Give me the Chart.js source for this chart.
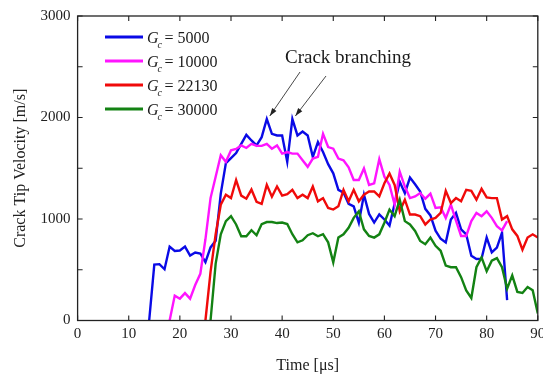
<!DOCTYPE html>
<html><head><meta charset="utf-8">
<script src="https://cdn.jsdelivr.net/npm/chart.js@4.4.1/dist/chart.umd.min.js"></script>
<style>
html,body{margin:0;padding:0;overflow:hidden;background:#fff;width:543px;height:377px}
#wrap{position:relative;width:553px;height:377px}
</style></head><body>
<div id="wrap"><canvas id="c"></canvas></div>
<script>
const timeUs = [14,15,16,17,18,19,20,21,22,23,24,25,26,27,28,29,30,31,32,33,34,35,36,37,38,39,40,41,42,43,44,45,46,47,48,49,50,51,52,53,54,55,56,57,58,59,60,61,62,63,64,65,66,67,68,69,70,71,72,73,74,75,76,77,78,79,80,81,82,83,84,85,86,87,88,89,90];
const gcLabels = ['5000','10000','22130','30000'];
const gc5000 = [0,550,555,505,728,685,690,728,640,670,
  660,575,720,785,1250,1550,1600,1650,1740,1829,
  1774,1725,1806,1985,1839,1823,1823,1563,1985,1823,
  1862,1823,1612,1758,1660,1540,1450,1287,1260,1150,
  1125,963,1240,1050,965,1045,995,935,1150,1368,
  1255,1408,1342,1271,1100,1035,885,805,768,995,
  1060,898,849,638,606,610,817,671,719,865,200,
  null,null,null,null,null,null];
const gc10000 = [null,null,null,null,
  0,245,215,270,215,350,460,800,1206,1417,
  1628,1563,1677,1690,1725,1700,1741,1720,1720,1741,
  1693,1725,1644,1660,1644,1644,1579,1514,1595,1612,
  1839,1709,1693,1595,1579,1510,1384,1384,1498,1336,
  1352,1590,1417,1336,1141,1466,1320,1206,1222,1255,
  1200,1250,1109,1115,1011,1141,985,833,833,979,
  1060,1028,1076,1011,930,888,979,
  null,null,null,null,null,null];
const gc22130 = [null,null,null,null,null,null,null,null,null,null,null,
  0,480,850,1141,1239,1206,1384,1230,1200,1290,
  1170,1150,1336,1220,1320,1230,1245,1287,1206,1240,
  1206,1320,1174,1206,1109,1093,1125,1287,1174,1287,
  1174,1239,1271,1271,1222,1352,1449,1336,1076,1190,
  1044,1044,1028,946,995,1011,1060,1277,1157,1206,
  1174,1287,1277,1190,1297,1212,1206,1206,995,1028,
  898,833,697,817,849,817];
const gc30000 = [null,null,null,null,null,null,null,null,null,null,null,null,
  0,560,849,979,1028,946,830,830,890,840,
  950,970,970,960,965,950,850,770,790,840,
  860,830,850,770,573,817,849,914,1011,1076,
  898,833,817,849,963,1093,1028,1190,979,946,
  882,784,752,817,736,687,541,525,525,427,
  297,222,525,622,485,590,614,525,314,444,
  281,271,330,297,70];
const xTicks = [0,10,20,30,40,50,60,70,80,90];
const yTicks = [0,500,1000,1500,2000,2500,3000];
const yLabeled = [0,1000,2000,3000];
const branchTimes = [37,42];
const annotationText = 'Crack branching';
const xTitle = 'Time [\u03bcs]';
const yTitle = 'Crack Tip Velocity [m/s]';

const colors = ['#0a0ae6','#ff14ff','#f00a0a','#138213'];
const serif = "'Liberation Serif','Times New Roman',serif";
const seriesValues = [gc5000, gc10000, gc22130, gc30000];

const datasets = seriesValues.map((arr, k) => ({
  label: 'Gc = ' + gcLabels[k],
  data: timeUs.map((t, i) => ({x: t, y: arr[i]})),
  borderColor: colors[k],
  backgroundColor: colors[k],
  borderWidth: 2.4,
  pointRadius: 0,
  tension: 0,
  fill: false,
  order: 4 - k
}));

const framePlugin = {
  id: 'frame',
  afterDatasetsDraw(chart) {
    const {ctx, chartArea: a, scales: {x, y}} = chart;
    ctx.save();
    ctx.strokeStyle = '#222';
    ctx.lineWidth = 1.3;
    ctx.strokeRect(a.left, a.top, a.right - a.left, a.bottom - a.top);
    ctx.lineWidth = 1.1;
    const tl = 5;
    ctx.beginPath();
    xTicks.forEach(v => {
      const px = x.getPixelForValue(v);
      ctx.moveTo(px, a.bottom); ctx.lineTo(px, a.bottom - tl);
      ctx.moveTo(px, a.top); ctx.lineTo(px, a.top + tl);
    });
    yTicks.forEach(v => {
      const py = y.getPixelForValue(v);
      ctx.moveTo(a.left, py); ctx.lineTo(a.left + tl, py);
      ctx.moveTo(a.right, py); ctx.lineTo(a.right - tl, py);
    });
    ctx.stroke();
    ctx.restore();
  },
  afterDraw(chart) {
    const {ctx, scales: {x, y}} = chart;
    ctx.save();
    // legend
    const rowY = [37, 61, 85, 109];
    gcLabels.forEach((lab, k) => {
      const cy = rowY[k];
      ctx.strokeStyle = colors[k];
      ctx.lineWidth = 3;
      ctx.beginPath(); ctx.moveTo(105, cy); ctx.lineTo(143, cy); ctx.stroke();
      ctx.fillStyle = '#1a1a1a';
      ctx.textBaseline = 'alphabetic';
      ctx.textAlign = 'left';
      ctx.font = 'italic 16px ' + serif;
      ctx.fillText('G', 147, cy + 6);
      const gw = ctx.measureText('G').width;
      ctx.font = 'italic 10px ' + serif;
      ctx.fillText('c', 147 + gw - 1, cy + 11);
      ctx.font = '16px ' + serif;
      ctx.fillText('= ' + lab, 147 + gw + 6, cy + 6);
    });
    // annotation
    ctx.font = '19px ' + serif;
    ctx.fillStyle = '#1a1a1a';
    ctx.fillText(annotationText, 285, 63);
    const starts = [[300, 72], [326, 76]];
    branchTimes.forEach((t, i) => {
      const peak = gc5000[timeUs.indexOf(t)];
      const tx = x.getPixelForValue(t) + 3;
      const ty = y.getPixelForValue(peak) - 3;
      const [sx, sy] = starts[i];
      ctx.strokeStyle = '#333';
      ctx.lineWidth = 0.9;
      ctx.beginPath(); ctx.moveTo(sx, sy); ctx.lineTo(tx, ty); ctx.stroke();
      const ang = Math.atan2(ty - sy, tx - sx);
      const L = 8, W = 2.6;
      ctx.fillStyle = '#222';
      ctx.beginPath();
      ctx.moveTo(tx, ty);
      ctx.lineTo(tx - L * Math.cos(ang) + W * Math.sin(ang), ty - L * Math.sin(ang) - W * Math.cos(ang));
      ctx.lineTo(tx - L * Math.cos(ang) - W * Math.sin(ang), ty - L * Math.sin(ang) + W * Math.cos(ang));
      ctx.closePath(); ctx.fill();
    });
    ctx.restore();
  }
};

new Chart(document.getElementById('c'), {
  type: 'line',
  data: {datasets},
  options: {
    responsive: true,
    maintainAspectRatio: false,
    animation: false,
    events: [],
    layout: {padding: {left: 0, top: 13, right: 15.2, bottom: 0}},
    plugins: {legend: {display: false}, tooltip: {enabled: false}},
    scales: {
      x: {
        type: 'linear', min: 0, max: 90,
        grid: {display: false, drawTicks: false},
        border: {display: false},
        afterBuildTicks: s => { s.ticks = xTicks.map(v => ({value: v})); },
        afterFit: s => { s.height = 56.5; },
        ticks: {padding: 5, color: '#222', font: {family: serif, size: 15}, maxRotation: 0, autoSkip: false},
        title: {display: true, text: xTitle, color: '#222', font: {family: serif, size: 16}, padding: {top: 0, bottom: 2}}
      },
      y: {
        type: 'linear', min: 0, max: 3000,
        grid: {display: false, drawTicks: false},
        border: {display: false},
        afterBuildTicks: s => { s.ticks = yTicks.map(v => ({value: v})); },
        afterFit: s => { s.width = 77.6; },
        ticks: {padding: 7, color: '#222', font: {family: serif, size: 15}, autoSkip: false,
          callback: v => yLabeled.includes(v) ? String(v) : ''},
        title: {display: true, text: yTitle, color: '#222', font: {family: serif, size: 16}, padding: {top: 11, bottom: 0}}
      }
    }
  },
  plugins: [framePlugin]
});
</script>
</body></html>
